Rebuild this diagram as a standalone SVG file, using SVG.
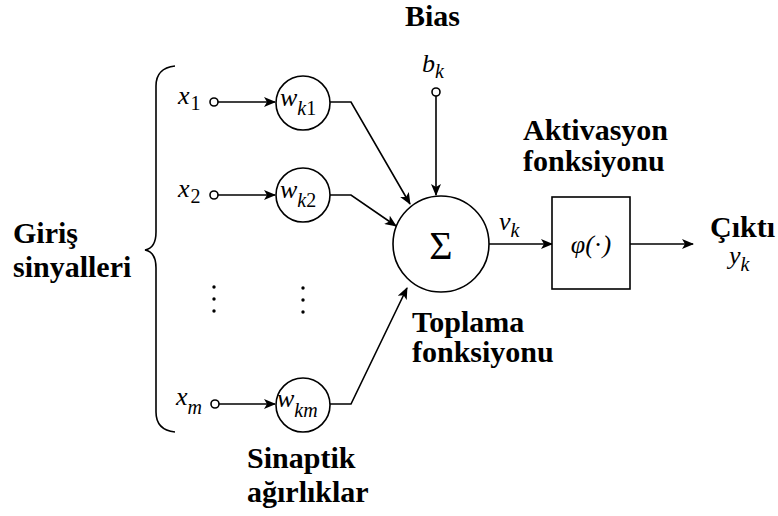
<svg xmlns="http://www.w3.org/2000/svg" width="778" height="516" viewBox="0 0 778 516">
<style>
.lbl{font-weight:bold;font-size:30px;fill:#000}
.mv{font-style:italic;font-size:26px;fill:#000}
.sub{font-size:20px}
.up{font-style:normal}
.ln{stroke:#000;stroke-width:1.6;fill:none}
.nd{stroke:#000;stroke-width:1.6;fill:#fff}
</style>
<defs>
<marker id="ah" markerWidth="12" markerHeight="10" refX="11" refY="5" orient="auto" markerUnits="userSpaceOnUse">
<path d="M0,0 L12,5 L0,10 L3,5 Z" fill="#000"/>
</marker>
</defs>
<rect width="778" height="516" fill="#fff"/>

<g id="connectors">
<line class="ln" x1="218" y1="102" x2="275" y2="102" marker-end="url(#ah)"/>
<line class="ln" x1="218" y1="195" x2="275" y2="195" marker-end="url(#ah)"/>
<line class="ln" x1="219" y1="404" x2="275" y2="404" marker-end="url(#ah)"/>
<polyline class="ln" points="330,102 351,102 410,204" marker-end="url(#ah)"/>
<polyline class="ln" points="330,195 351,195 396,226" marker-end="url(#ah)"/>
<polyline class="ln" points="330,404 351,404 407,288" marker-end="url(#ah)"/>
<line class="ln" x1="436" y1="96" x2="436" y2="195" marker-end="url(#ah)"/>
<line class="ln" x1="489" y1="244" x2="552" y2="244" marker-end="url(#ah)"/>
<line class="ln" x1="630" y1="244" x2="693" y2="244" marker-end="url(#ah)"/>
</g>

<g id="brace">
<path class="ln" d="M175,66 Q156,68 156,86 L156,232 Q156,248 145,250 Q156,252 156,268 L156,412 Q156,430 175,432"/>
</g>

<g font-family="Liberation Serif, DejaVu Serif, serif">
<g id="x1"><circle class="nd" cx="214" cy="102" r="4"/><text class="mv" x="178" y="104">x<tspan class="sub up" dx="1" dy="6">1</tspan></text></g>
<g id="x2"><circle class="nd" cx="214" cy="195" r="4"/><text class="mv" x="178" y="197">x<tspan class="sub up" dx="1" dy="6">2</tspan></text></g>
<g id="xm"><circle class="nd" cx="215" cy="404" r="4"/><text class="mv" x="176" y="405">x<tspan class="sub" dy="9">m</tspan></text></g>

<g id="wk1"><circle class="nd" cx="303" cy="103" r="27"/><text class="mv" x="280" y="106">w<tspan class="sub" dy="9">k</tspan><tspan class="sub up">1</tspan></text></g>
<g id="wk2"><circle class="nd" cx="303" cy="195" r="27"/><text class="mv" x="280" y="198">w<tspan class="sub" dy="9">k</tspan><tspan class="sub up">2</tspan></text></g>
<g id="wkm"><circle class="nd" cx="303" cy="405" r="27"/><text class="mv" x="277" y="407">w<tspan class="sub" dy="10">km</tspan></text></g>

<g id="dots" fill="#000">
<circle cx="214" cy="287" r="1.7"/><circle cx="214" cy="299" r="1.7"/><circle cx="214" cy="311" r="1.7"/>
<circle cx="303" cy="288" r="1.7"/><circle cx="303" cy="300" r="1.7"/><circle cx="303" cy="312" r="1.7"/>
</g>

<g id="bias"><circle class="nd" cx="436" cy="92" r="4"/><text class="mv" x="422" y="72">b<tspan class="sub" dy="6">k</tspan></text></g>

<g id="sum"><circle class="nd" cx="441" cy="244" r="48"/><text x="441" y="259" text-anchor="middle" font-size="40">Σ</text></g>

<g id="vk"><text class="mv" x="499" y="230">v<tspan class="sub" dy="7">k</tspan></text></g>

<g id="act"><rect class="nd" x="552" y="197" width="78" height="92"/><text class="mv" x="591" y="253" text-anchor="middle" font-size="27">φ(<tspan class="up">·</tspan>)</text></g>

<g id="yk"><text class="mv" x="729" y="264">y<tspan class="sub" dy="7">k</tspan></text></g>

<g id="labels">
<text class="lbl" x="405" y="26">Bias</text>
<text class="lbl" x="523" y="140">Aktivasyon</text>
<text class="lbl" x="523" y="171">fonksiyonu</text>
<text class="lbl" x="710" y="237">Çıktı</text>
<text class="lbl" x="13" y="243">Giriş</text>
<text class="lbl" x="13" y="277">sinyalleri</text>
<text class="lbl" x="412" y="332" font-size="29">Toplama</text>
<text class="lbl" x="412" y="362" font-size="29">fonksiyonu</text>
<text class="lbl" x="247" y="468">Sinaptik</text>
<text class="lbl" x="247" y="502">ağırlıklar</text>
</g>
</g>
</svg>
